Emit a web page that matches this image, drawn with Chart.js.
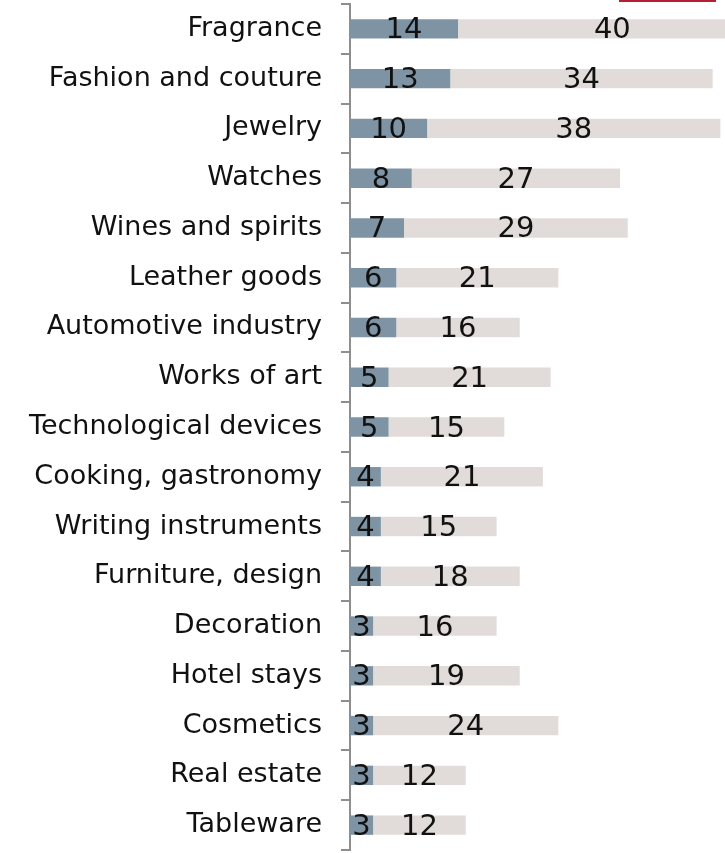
<!DOCTYPE html>
<html>
<head>
<meta charset="utf-8">
<script src="https://cdn.jsdelivr.net/npm/chart.js@4"></script>
<style>
  html, body { margin: 0; padding: 0; background: #fff; }
  #wrap { width: 725px; height: 853px; position: relative; }
</style>
</head>
<body>
<div id="wrap"><canvas id="chart"></canvas></div>
<script>
const categories = [
  'Fragrance', 'Fashion and couture', 'Jewelry', 'Watches', 'Wines and spirits',
  'Leather goods', 'Automotive industry', 'Works of art', 'Technological devices',
  'Cooking, gastronomy', 'Writing instruments', 'Furniture, design', 'Decoration',
  'Hotel stays', 'Cosmetics', 'Real estate', 'Tableware'
]
const firstValues = [14, 13, 10, 8, 7, 6, 6, 5, 5, 4, 4, 4, 3, 3, 3, 3, 3]
const secondValues = [40, 34, 38, 27, 29, 21, 16, 21, 15, 21, 15, 18, 16, 19, 24, 12, 12]

const FONT = '"DejaVu Sans", sans-serif'

// value labels centred in each segment (uses the unclipped bar extent)
const segmentLabels = {
  id: 'segmentLabels',
  afterDatasetsDraw(chart) {
    const ctx = chart.ctx
    ctx.save()
    ctx.font = '29px ' + FONT
    ctx.fillStyle = '#111'
    ctx.textAlign = 'center'
    ctx.textBaseline = 'middle'
    chart.data.datasets.forEach((ds, i) => {
      chart.getDatasetMeta(i).data.forEach((bar, j) => {
        const cx = (bar.base + bar.x) / 2
        ctx.fillText(String(ds.data[j]), cx, bar.y + 2)
      })
    })
    ctx.restore()
  }
}

// thin red accent rule at the top edge
const accentRule = {
  id: 'accentRule',
  afterDraw(chart) {
    const ctx = chart.ctx
    ctx.save()
    ctx.fillStyle = '#b51f33'
    ctx.fillRect(619, 0, 97, 2)
    ctx.restore()
  }
}

new Chart(document.getElementById('chart'), {
  type: 'bar',
  data: {
    labels: categories,
    datasets: [
      {
        data: firstValues,
        backgroundColor: '#7e94a4',
        barPercentage: 0.39,
        categoryPercentage: 1,
      },
      {
        data: secondValues,
        backgroundColor: '#e1dcda',
        barPercentage: 0.39,
        categoryPercentage: 1,
      },
    ],
  },
  options: {
    indexAxis: 'y',
    responsive: true,
    maintainAspectRatio: false,
    animation: false,
    layout: { padding: { top: 4, bottom: 3, left: 0, right: 0 } },
    plugins: {
      legend: { display: false },
      tooltip: { enabled: false },
    },
    scales: {
      x: {
        stacked: true,
        display: false,
        min: 0,
        max: 48.6,
      },
      y: {
        stacked: true,
        afterFit(scale) {
          scale.width = 350
          scale.paddingTop = 0
          scale.paddingBottom = 0
        },
        grid: {
          drawOnChartArea: false,
          drawTicks: true,
          tickLength: 9,
          color: '#8e8e8e',
          lineWidth: 2,
        },
        border: { color: '#8e8e8e', width: 2 },
        ticks: {
          padding: 19,
          color: '#111',
          font: { family: FONT, size: 27 },
        },
      },
    },
  },
  plugins: [segmentLabels, accentRule],
})
</script>
</body>
</html>
